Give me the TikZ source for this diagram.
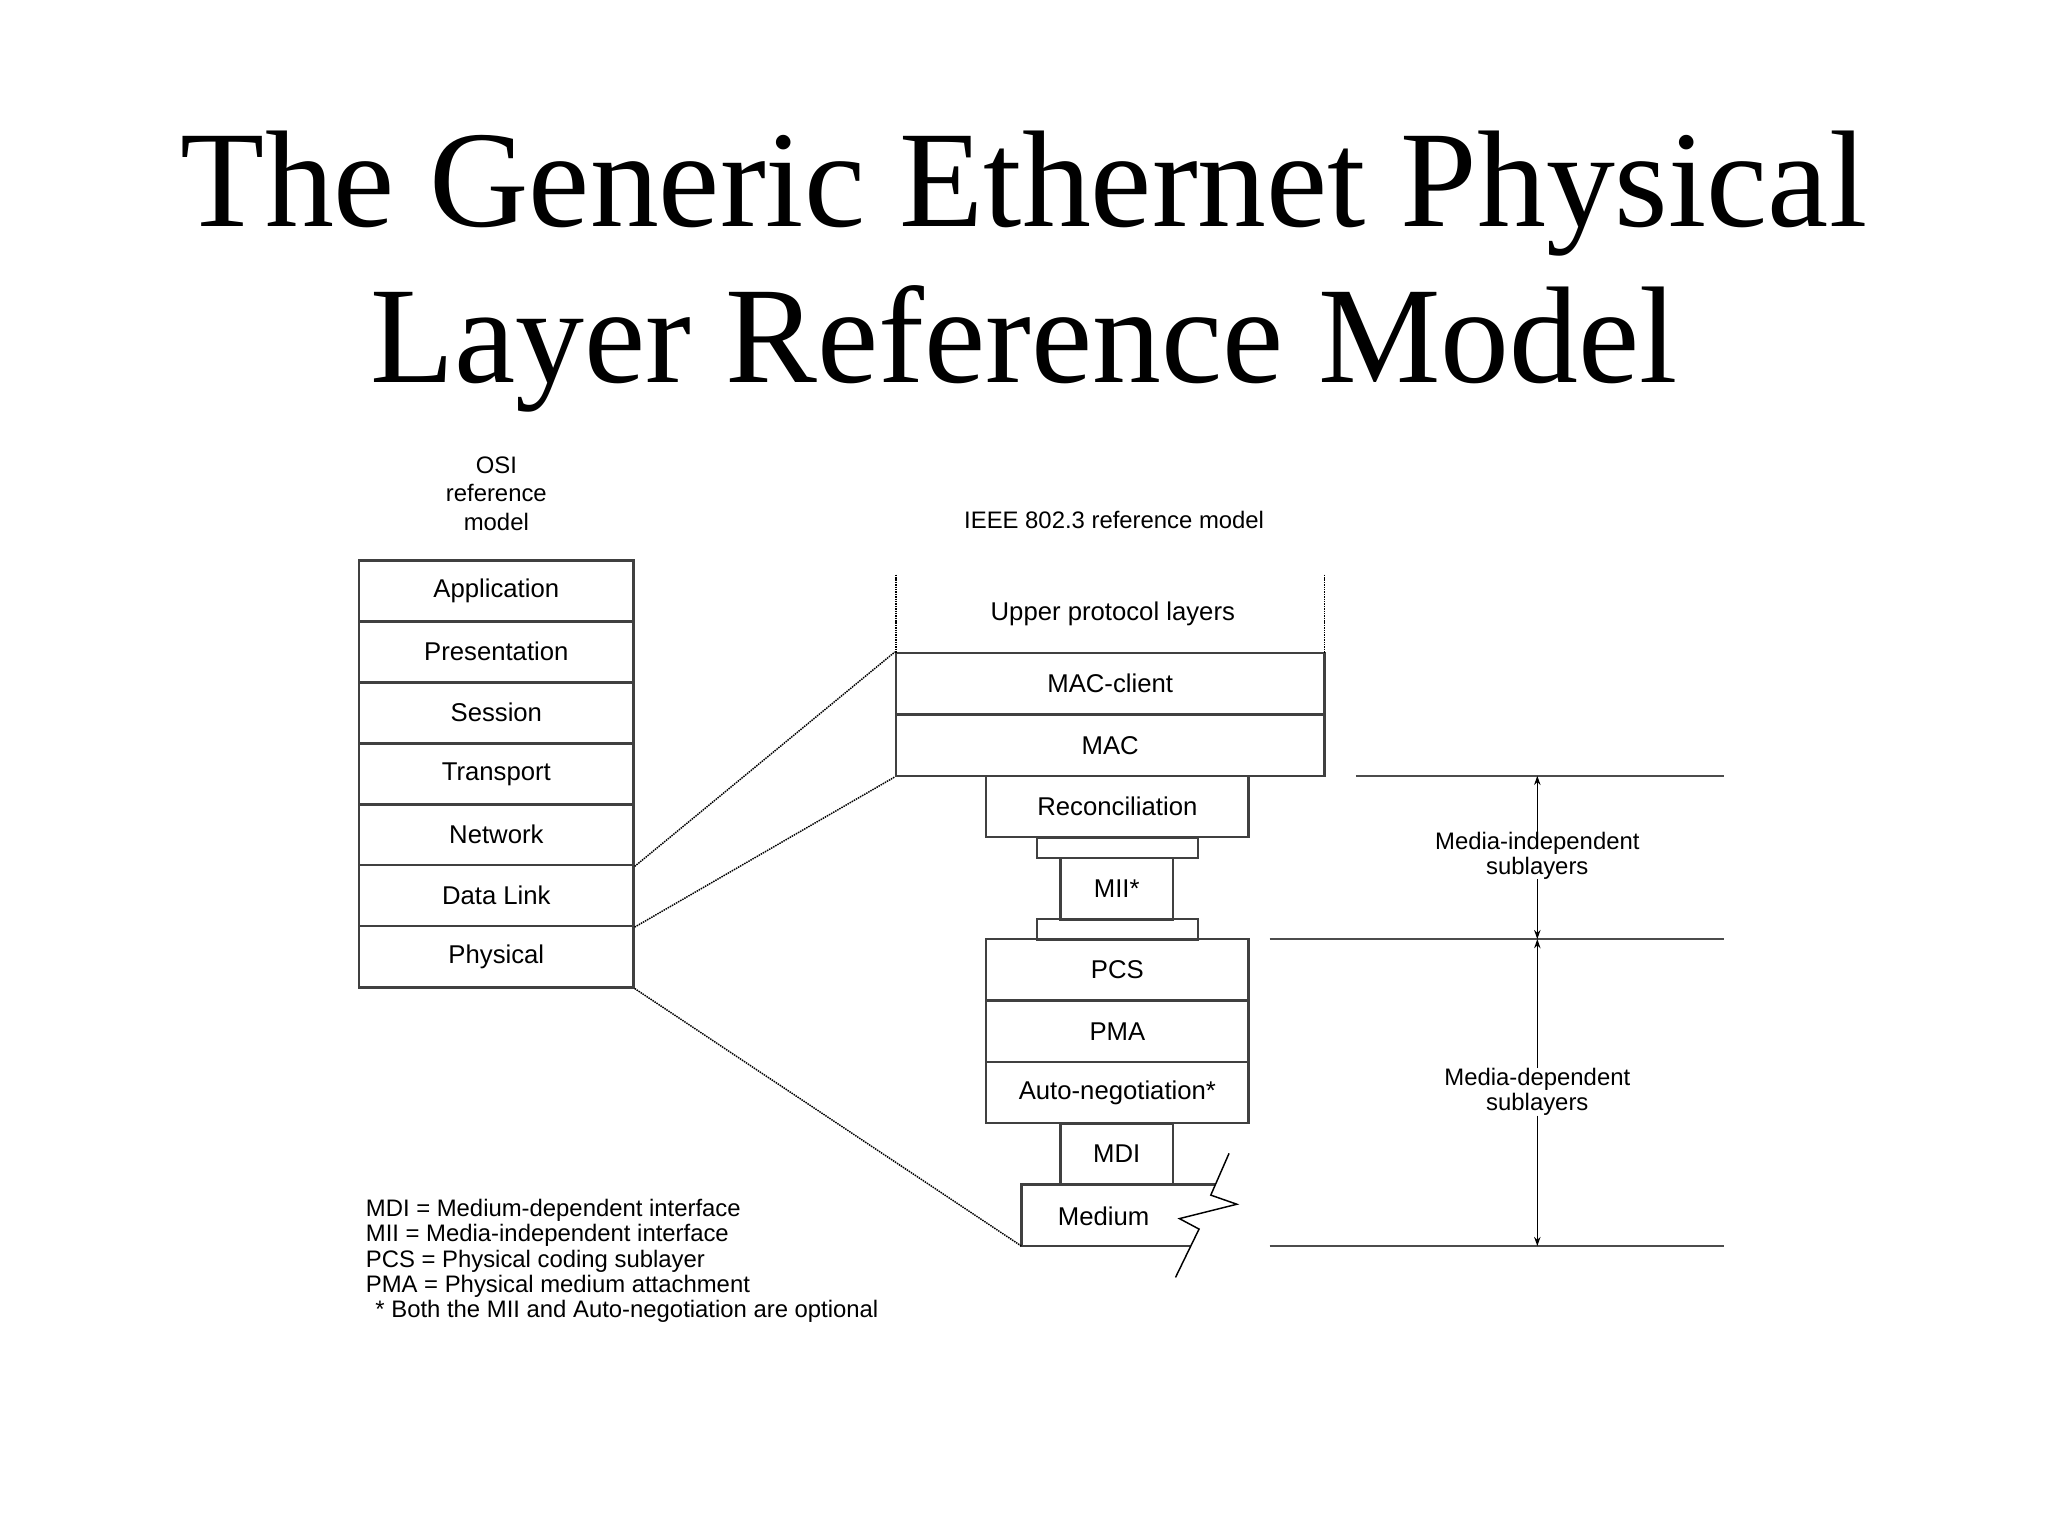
\documentclass[tikz,border=0pt]{standalone}
\usepackage{fontspec}
\setmainfont{Liberation Sans}
\newfontfamily\titlefont{Liberation Serif}
\usetikzlibrary{arrows.meta}
\begin{document}
\begin{tikzpicture}[x=0.05cm,y=-0.05cm,
  every node/.style={font=\fontsize{28}{33}\selectfont, inner sep=0pt},
  bx/.style={draw=black!75, line width=2.6pt, minimum height=2.34cm},
  osi/.style={bx, minimum width=10.5cm},
  wide/.style={bx, minimum width=16.4cm},
  mid/.style={bx, minimum width=10.05cm},
  nar/.style={bx, minimum width=4.3cm},
  conn/.style={bx, minimum width=6.15cm, minimum height=0.78cm},
  dot/.style={densely dotted, line width=1.6pt},
  rule/.style={black!70, line width=1.8pt},
  arr/.style={line width=1.4pt, -{Stealth[length=10pt,width=7pt]}}]
\useasboundingbox[fill=white] (0,0) rectangle (1568,1176);
\node[font=\titlefont\fontsize{150}{170}\selectfont, align=center] (title) at (784,208)
  {The Generic Ethernet Physical\\Layer Reference Model};
\node[align=center, font=\fontsize{26}{31}\selectfont] (osih) at (380,378) {OSI\\reference\\model};
\node[osi] (app) at (380,452.5) {Application};
\node[osi] (pre) at (380,499) {Presentation};
\node[osi] (ses) at (380,545.5) {Session};
\node[osi] (tra) at (380,592.5) {Transport};
\node[osi] (net) at (380,639) {Network};
\node[osi] (dl) at (380,685.5) {Data Link};
\node[osi] (phy) at (380,732.5) {Physical};

\node[font=\fontsize{26}{31}\selectfont] (ieee) at (853,398) {IEEE 802.3 reference model};
\node (upl) at (852,470) {Upper protocol layers};
\node[wide] (macc) at (850,523.5) {MAC-client};
\node[wide] (mac) at (850,570.5) {MAC};
\node[mid] (rec) at (855.5,617.5) {Reconciliation};
\node[conn] (c1) at (855.5,649) {};
\node[nar] (mii) at (855,680.5) {MII*};
\node[conn] (c2) at (855.5,711.5) {};
\node[mid] (pcs) at (855.5,742.5) {PCS};
\node[mid] (pma) at (855.5,789.5) {PMA};
\node[mid] (aut) at (855.5,836.5) {Auto-negotiation*};
\node[nar] (mdi) at (855,883.5) {MDI};
\draw[black!75, line width=2.6pt] (911,954) -- (782,954) -- (782,907) -- (930,907);
\draw[line width=1.6pt] (941,883) -- (927,915) -- (947,922) -- (903,933) -- (918,941) -- (900,978);
\node (med) at (845,931) {Medium};
\coordinate (medbl) at (782,954);

\draw[dot] (686,440) -- (686,500);
\draw[dot] (1014,440) -- (1014,500);
\draw[dot] (net.south east) -- (macc.north west);
\draw[dot] (dl.south east) -- (mac.south west);
\draw[dot] (phy.south east) -- (medbl);

\coordinate (l1a) at (1038,594); \coordinate (l1b) at (1320,594);
\coordinate (l2a) at (972,719); \coordinate (l2b) at (1320,719);
\coordinate (l3a) at (972,954); \coordinate (l3b) at (1320,954);
\draw[rule] (l1a) -- (l1b);
\draw[rule] (l2a) -- (l2b);
\draw[rule] (l3a) -- (l3b);
\node[align=center, font=\fontsize{26}{27}\selectfont] (mi) at (1177,655) {Media-independent\\sublayers};
\node[align=center, font=\fontsize{26}{27}\selectfont] (md) at (1177,836) {Media-dependent\\sublayers};
\coordinate (p1) at (1177,594); \coordinate (p2) at (1177,719); \coordinate (p3) at (1177,954);
\draw[arr] (mi.north) -- (p1);
\draw[arr] (mi.south) -- (p2);
\draw[arr] (md.north) -- (p2);
\draw[arr] (md.south) -- (p3);

\node[anchor=north west, align=left, font=\fontsize{26}{27.5}\selectfont] (leg) at (280,918)
{MDI = Medium-dependent interface\\
MII = Media-independent interface\\
PCS = Physical coding sublayer\\
PMA = Physical medium attachment\\
\hspace{0.4em}* Both the MII and Auto-negotiation are optional};
\end{tikzpicture}
\end{document}
